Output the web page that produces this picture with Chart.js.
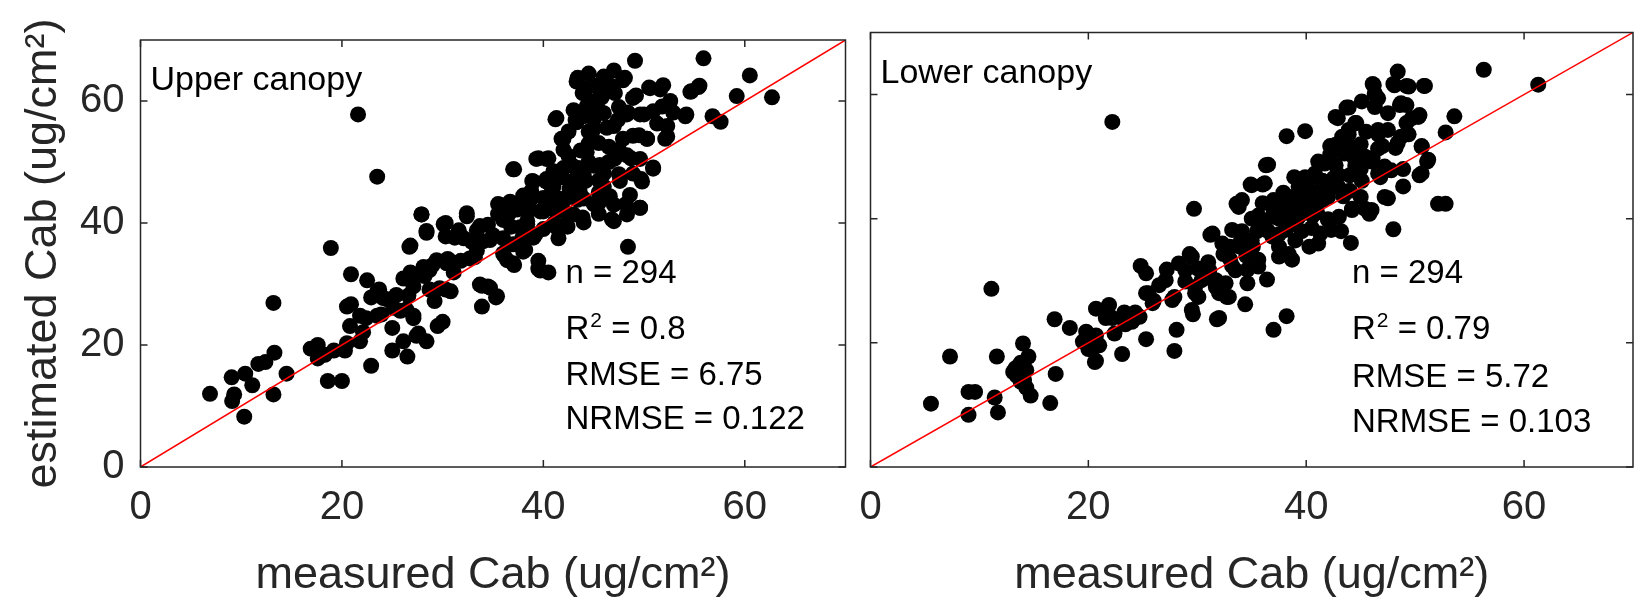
<!DOCTYPE html>
<html>
<head>
<meta charset="utf-8">
<script src="https://cdn.jsdelivr.net/npm/chart.js@4.4.1/dist/chart.umd.min.js"></script>
<style>
  body { margin: 0; background: #fff; }
  #wrap { position: relative; width: 1641px; height: 603px; }
  canvas { position: absolute; left: 0; top: 0; }
</style>
</head>
<body>
<div id="wrap">
  <canvas id="upperChart" width="1641" height="603"></canvas>
  <canvas id="lowerChart" width="1641" height="603"></canvas>
</div>
<script>
const axisTicks = [0, 20, 40, 60]
const axisMax = 70
const oneToOne = [0, axisMax]

const upperMeasured = [
  6.9, 9.05, 9.1, 9.3, 10.3, 10.4, 11.1, 11.7, 12.4, 13.2, 13.3, 13.2, 14.5, 16.9, 17.6, 17.6, 18.3, 18.9, 18.6, 20,
  19.2, 20.3, 20.5, 20.8, 20.5, 20.9, 21.6, 21.8, 22.4, 22.5, 22.9, 22.9, 23.5, 23.7, 23.9, 24.5, 25, 25, 25.8, 26.1,
  26.5, 26.6, 26.7, 26.8, 27.1, 27.6, 27.9, 28.2, 28.4, 28.4, 28.7, 29, 29.2, 29.5, 30, 30.3, 30.3, 30.3, 30.5, 30.8,
  31.1, 31.6, 31.8, 32.4, 32.1, 32.9, 33.2, 33.4, 33.9, 33.9, 34.5, 34.7, 35.3, 34.7, 35.5, 36.1, 36.6, 36.8, 37.1, 37.1,
  37.4, 37.9, 38.2, 38.4, 38.7, 38.9, 39.2, 39.5, 39.5, 39.7, 40, 40.3, 40.5, 40.8, 41.1, 41.3, 41.6, 41.8, 41.8, 42.1,
  42.4, 42.6, 42.9, 43.2, 43.4, 43.4, 43.7, 43.9, 43.9, 44.2, 44.5, 44.5, 45, 45, 45.3, 45.5, 45.5, 45.8, 46, 46.3,
  46.6, 46.8, 47.1, 47.1, 47.4, 47.6, 47.9, 48.1, 48.2, 48.4, 48.4, 48.7, 48.9, 49.1, 49.2, 49.5, 49.6, 49.7, 50, 50.3,
  50.5, 50.9, 51.3, 51.6, 51.8, 52.1, 52.6, 52.9, 54.2, 54.7, 55.5, 55.9, 56.8, 57.6, 59.2, 60.5, 62.7, 39.5, 40.5, 38,
  20.9, 22.1, 21.8, 23.5, 23.5, 24.1, 25.1, 26.4, 25.4, 26.1, 27.4, 27.1, 27.1, 27.4, 28.1, 28.7, 29.7, 29.4, 30.4, 30.9,
  33.7, 34.5, 35.4, 32.7, 36.4, 37,
  43.3, 44.3, 45.6, 46.6, 47.9, 50.6, 51.9, 54.6, 55.4, 48.9, 44.3, 45, 50.9, 54.1, 41.2, 43.3, 45, 47, 48.9, 50.3,
  52.3, 52.3, 48.3, 49.6, 42, 42, 39.3, 40.3, 37, 44.3, 45.6, 47, 48.3, 49.6, 50.9, 49.8, 48.6, 49.6, 47, 48.3,
  45.6, 43.6, 42.3, 41.3, 42.3, 44, 40.3, 39, 38.8, 40, 39.7, 38.4, 37.4, 35.7, 36.7, 33.7, 32.4, 30.1, 27.9, 28.4,
  26.8, 31.2, 33.4, 36, 37.7, 39, 41.3, 43,
  44, 46, 47.5, 43, 41, 42, 44.5, 46.5, 45, 46, 47.5, 43, 44, 45.5, 47, 41.5, 40.5, 38.5, 36, 35,
  34, 37, 35.5, 42.5, 46, 44.5, 47,
  44.5, 45.5, 46.5, 47.5, 44, 45.5, 42.5, 43.5, 41, 40, 41.5, 36, 38
]
const upperEstimated = [
  12.0, 14.7, 10.8, 11.9, 8.25, 15.3, 13.4, 16.9, 17.2, 26.9, 18.75, 11.9, 15.3, 19.4, 20, 17.8, 18.4, 35.9, 14.1, 14.1,
  19.1, 19.1, 20.3, 23.1, 26.3, 31.6, 57.8, 20.6, 24.4, 30.6, 16.6, 27.8, 47.6, 29.1, 25, 27.5, 22.8, 19.1, 25.6, 20.6,
  18.1, 28.1, 36.1, 31.9, 24.4, 21.9, 41.4, 31.3, 20.6, 38.4, 29.1, 33.1, 27.2, 23.1, 23.8, 29.1, 40, 37.8, 34.1, 28.8,
  31.9, 38.8, 33.8, 41.6, 37.5, 36.9, 34.4, 38.8, 29.7, 26.3, 39.7, 37.2, 27.8, 29.4, 43.1, 34.7, 41.6, 39.4, 48.8, 33.1,
  43.1, 37.5, 35.6, 40.3, 43.8, 46.9, 38.1, 33.8, 50.6, 32.2, 41.9, 47.2, 50.6, 45, 40, 57.2, 43.1, 53.8, 47.5, 41.9,
  39.4, 45.6, 49.4, 56.9, 63.8, 43.8, 51.9, 40.9, 61.3, 46.9, 60, 55, 43.1, 49.4, 62.5, 53.1, 45, 60.6, 48.1, 55.6,
  44.4, 40.6, 50.6, 61.3, 56.9, 46.9, 53.8, 63.8, 43.1, 36.1, 58.1, 50.6, 48.1, 66.6, 60.9, 54.4, 42.5, 47.2, 57.8, 53.8,
  62.2, 49.1, 56.3, 61.9, 59.1, 53.8, 60, 58.1, 57.8, 61.6, 62.5, 67, 57.5, 56.6, 60.8, 64.2, 60.6, 32.5, 31.9, 35.3,
  26.7, 22.1, 24.8, 24.8, 28.8, 27.7, 26.1, 25.8, 28.2, 30.9, 31.5, 29.6, 24.8, 21.5, 32.8, 32.3, 29.3, 33.9, 33.4, 33.6,
  29.9, 29.6, 28, 34.2, 33.9, 33.4,
  63.2, 62.1, 61.8, 62.6, 63.4, 62.1, 62.6, 61.5, 62.3, 60.5, 59.1, 59.9, 58.3, 57.5, 57, 56.5, 55.4, 55.9, 54.3, 53.8,
  55.9, 54.2, 57.8, 57.8, 53.8, 52, 50.5, 50.5, 48.8, 51.6, 49.5, 50.5, 51.1, 50.5, 48.9, 46.8, 44.6, 42.5, 40.3, 41.4,
  43.5, 45.2, 44.1, 41.9, 39.8, 40.1, 46.8, 46.8, 45.2, 44.1, 41.9, 39.8, 42.2, 43, 43.5, 39.5, 41.1, 39.8, 41.4, 38.7,
  36.3, 37.6, 35.5, 35, 39.3, 37.6, 39.3, 41.4,
  48, 46, 48, 47, 46, 49, 53, 52.5, 57, 58, 59, 58.5, 44, 41.5, 43, 44, 42.5, 42, 40.5, 38,
  37, 36.5, 41.5, 55, 64, 64.5, 65,
  50, 47, 50, 52, 57.5, 58.5, 51, 49, 48.5, 39, 37.5, 37.5, 44.5
]

const lowerMeasured = [
  5.55, 7.3, 9.0, 9.0, 9.6, 11.1, 11.4, 11.6, 11.7, 13.3, 13.5, 13.8, 14.0, 14.3, 14.5, 14.7, 13.8, 13.1, 14.3, 16.5,
  16.9, 17.0, 18.3, 19.5, 19.8, 20, 20.7, 20.6, 21, 20.7, 21.7, 21.6, 22.2, 22.4, 23.1, 23.3, 24.1, 24.3, 24.8, 25.3,
  25.3, 25.5, 26, 26.5, 27.2, 27.9, 28.1, 27.9, 28.9, 29.3, 29.6, 29.7, 29.8, 30.5, 30.8, 31.2, 31.7, 31.8, 32.4, 32.7,
  33.2, 33.6, 33.9, 34.1, 34.4, 34.6, 34.9, 35.1, 35.6, 36, 36.3, 36.4, 36.5, 37, 37, 37.5, 37.9, 38.2, 38.2, 38.4,
  38.7, 38.9, 39.4, 39.6, 39.9, 39.9, 40.3, 40.6, 40.8, 41.1, 41.3, 41.5, 42, 42.2, 42.7, 42.7, 43.2, 43.4, 43.7, 43.9,
  44.1, 44.2, 44.4, 44.6, 45.1, 45.1, 45.4, 45.8, 46.1, 46.1, 46.3, 46.6, 46.8, 47, 47.5, 48, 48, 48.2, 48.4, 48.7,
  48.9, 49.2, 49.2, 49.4, 50.4, 50.4, 50.6, 50.8, 51.1, 52.1, 52.8, 52.8, 53.6, 56.3, 61.3,
  13.4, 14.1, 20.4, 20.7, 20.1, 21.9, 22.2, 24, 24.7, 23.4, 25.3, 25.9, 27.1, 27.7, 28.3, 28.9, 29.5, 29.8, 30.1, 29.5,
  30.4, 31.1, 31.7, 32, 32.6, 32.9, 32, 33.5, 34.6, 35.6, 35.6, 37.5, 38.7,
  46.2, 46.3, 46.6, 48.1, 49.4, 50.9, 48.6, 49.2, 49.7, 50.3, 43.9, 42.9, 46.3, 50.6, 51.2, 48.4, 47.5, 46.6, 48.7, 46.6,
  46, 44.5, 43.9, 43.3, 42.7, 42.2, 41.7, 40.8, 40.2, 39.3, 38.4, 37.6, 36.9, 35, 36.2, 36.5, 33.8, 34.1, 31.4, 32.3,
  33.2, 45, 46, 47.2, 48.9, 50.6, 46.6, 47.2, 47.8, 45.4, 43, 44.2, 42.3, 41.1, 42, 40.5, 39.3, 38.1, 36.9,
  35, 36, 37.5, 38.5, 39.5, 40, 41.5, 43, 44, 45, 42.5, 41, 39, 37.5, 34.5, 33, 35.5, 40.5, 42, 43.5,
  45, 44,
  38, 39, 40, 41, 42, 43, 44.5, 39.5, 37, 36, 35, 34, 33, 31, 30, 41.5, 45.5, 47.5, 44
]
const lowerEstimated = [
  10.2, 17.8, 8.4, 12.1, 12.1, 28.7, 11.2, 17.8, 8.8, 15.9, 14.6, 13.7, 19.9, 12.8, 17.8, 11.5, 16.8, 15.3, 15.6, 10.3,
  23.8, 15, 22.4, 20.2, 21.8, 19, 21.2, 16.9, 19.6, 25.5, 25.5, 24, 55.6, 21.5, 18.2, 24.9, 23.7, 24.9, 32.4, 31.2,
  20.6, 28, 26.8, 29.3, 31.8, 18.7, 22.1, 27.4, 29.9, 34.3, 24.6, 41.6, 28, 31.8, 30.5, 37.4, 29, 23.8, 34.3, 27.4,
  32.4, 42.4, 35.5, 38, 26.2, 31.8, 45.5, 35.5, 40.5, 45.5, 48.6, 30.2, 38, 22.1, 43, 35.5, 44.2, 53.3, 24.3, 34.3,
  39.3, 46.7, 43, 38, 54.1, 46.7, 35.5, 40.5, 44.2, 49.2, 37.6, 46.1, 39.9, 51.7, 56.4, 48.6, 38, 43.6, 57.9, 53.6,
  36.1, 41.6, 49.8, 55.4, 58.9, 46.1, 41.6, 40.8, 61.7, 49.8, 60, 53.6, 46.7, 51.7, 43.3, 38.3, 61.7, 51.4, 63.7, 58.6,
  48, 61.4, 55.4, 53.6, 56.7, 47, 51.7, 61.4, 49.2, 42.4, 42.4, 53.9, 56.5, 64.0, 61.6,
  14.8, 14, 19.1, 17.1, 21, 26.1, 24, 23.4, 24.2, 23, 28, 26.4, 30.1, 26.9, 32.8, 31.7, 33.9, 29, 27.4, 25.3,
  30.1, 31.7, 30.1, 28, 29.6, 27.4, 24, 31.7, 29.6, 32.3, 33.4, 33.9, 33.4,
  61.5, 60.2, 59.4, 61.5, 61.3, 61.4, 58.3, 58.3, 56.2, 56.4, 57.9, 56.2, 58, 51.6, 49.5, 52.2, 54.3, 54.3, 53.2, 51.3,
  49.2, 55.4, 54.3, 53.2, 51.9, 50.3, 48.9, 47.3, 46.2, 45.2, 43.5, 41.9, 40.3, 45.4, 45.7, 48.7, 41.9, 43, 37.6, 36,
  38.2, 43.5, 41.4, 43.5, 45.2, 47.3, 47.3, 48.4, 47.8, 50, 40.3, 41.4, 38.2, 36, 39.8, 42.5, 40.3, 38.2, 37.1,
  36.5, 39, 40, 41.5, 42, 44, 43, 45, 47, 48, 46.5, 41, 36.5, 37.5, 34, 33.5, 38, 38.5, 43.5, 50.5,
  52, 44.5,
  40.5, 39, 41, 42.5, 45, 47, 48.5, 44.5, 41.5, 42.5, 40, 36.5, 35.5, 33, 32, 45.5, 54, 57, 51.5
]

const upperStats = ['n = 294', '0.8', 'RMSE = 6.75', 'NRMSE = 0.122']
const lowerStats = ['n = 294', '0.79', 'RMSE = 5.72', 'NRMSE = 0.103']

const fontFamily = "'Liberation Sans', Arial, Helvetica, sans-serif"
const axisColor = '#262626'

const matlabBox = {
  id: 'matlabBox',
  afterDraw(chart, args, opts) {
    const ctx = chart.ctx
    const area = chart.chartArea
    const x = chart.scales.x
    const y = chart.scales.y
    ctx.save()
    ctx.strokeStyle = axisColor
    ctx.lineWidth = 1.5
    ctx.strokeRect(area.left, area.top, area.right - area.left, area.bottom - area.top)
    ctx.beginPath()
    axisTicks.forEach(v => {
      const px = x.getPixelForValue(v)
      const py = y.getPixelForValue(v)
      ctx.moveTo(px, area.bottom); ctx.lineTo(px, area.bottom - 7)
      ctx.moveTo(px, area.top); ctx.lineTo(px, area.top + 7)
      ctx.moveTo(area.left, py); ctx.lineTo(area.left + 7, py)
      ctx.moveTo(area.right, py); ctx.lineTo(area.right - 7, py)
    })
    ctx.stroke()

    ctx.fillStyle = '#000'
    ctx.textBaseline = 'alphabetic'
    ctx.textAlign = 'left'
    ctx.font = `34px ${fontFamily}`
    ctx.fillText(opts.label, area.left + 10, area.top + 50)

    const sx = x.getPixelForValue(opts.statsX)
    const big = `33px ${fontFamily}`
    const small = `21px ${fontFamily}`
    const s = opts.stats
    ctx.font = big
    ctx.fillText(s[0], sx, y.getPixelForValue(opts.statsY[0]))
    const r2y = y.getPixelForValue(opts.statsY[1])
    ctx.fillText('R', sx, r2y)
    const rw = ctx.measureText('R').width
    ctx.font = small
    ctx.fillText('2', sx + rw + 1, r2y - 12)
    const tw = ctx.measureText('2').width
    ctx.font = big
    ctx.fillText(' = ' + s[1], sx + rw + tw + 1, r2y)
    ctx.fillText(s[2], sx, y.getPixelForValue(opts.statsY[2]))
    ctx.fillText(s[3], sx, y.getPixelForValue(opts.statsY[3]))
    ctx.restore()
  }
}

function makePanel(canvasId, measured, estimated, panel) {
  const points = measured.map((v, i) => ({ x: v, y: estimated[i] }))
  const config = {
    type: 'scatter',
    data: {
      datasets: [
        {
          type: 'line',
          data: oneToOne.map(v => ({ x: v, y: v })),
          borderColor: '#ff0000',
          borderWidth: 1.5,
          pointRadius: 0,
          order: 0
        },
        {
          data: points,
          backgroundColor: '#000',
          borderColor: '#000',
          pointRadius: 8,
          pointBorderWidth: 0,
          order: 1
        }
      ]
    },
    options: {
      responsive: false,
      animation: false,
      layout: { padding: panel.padding },
      plugins: {
        legend: { display: false },
        tooltip: { enabled: false },
        matlabBox: panel
      },
      scales: {
        x: {
          type: 'linear',
          min: 0,
          max: axisMax,
          afterBuildTicks: s => { s.ticks = axisTicks.map(v => ({ value: v })) },
          afterFit: s => { s.height = 136 },
          grid: { display: false, drawTicks: false },
          border: { display: false },
          ticks: { padding: 17, color: axisColor, font: { family: fontFamily, size: 40 }, maxRotation: 0 },
          title: {
            display: true,
            text: 'measured Cab (ug/cm²)',
            color: axisColor,
            font: { family: fontFamily, size: 45 },
            padding: { top: 0, bottom: 0 }
          }
        },
        y: {
          type: 'linear',
          min: 0,
          max: axisMax,
          afterBuildTicks: s => { s.ticks = axisTicks.map(v => ({ value: v })) },
          afterFit: s => { s.width = panel.yWidth },
          grid: { display: false, drawTicks: false },
          border: { display: false },
          ticks: { display: panel.yLabels, padding: 16, color: axisColor, font: { family: fontFamily, size: 40 } },
          title: {
            display: panel.yLabels,
            text: 'estimated Cab (ug/cm²)',
            color: axisColor,
            font: { family: fontFamily, size: 45 },
            padding: { top: 17, bottom: 0 }
          }
        }
      }
    },
    plugins: [matlabBox]
  }
  return new Chart(document.querySelector(canvasId), config)
}

makePanel('#upperChart', upperMeasured, upperEstimated, {
  label: 'Upper canopy',
  stats: upperStats,
  statsX: 42.2,
  statsY: [30.1, 21.0, 13.5, 6.3],
  yLabels: true,
  yWidth: 140.5,
  padding: { left: 0, top: 32.5, right: 795.5, bottom: 0 }
})

makePanel('#lowerChart', lowerMeasured, lowerEstimated, {
  label: 'Lower canopy',
  stats: lowerStats,
  statsX: 44.2,
  statsY: [29.6, 20.6, 12.9, 5.6],
  yLabels: false,
  yWidth: 870.5,
  padding: { left: 0, top: 32.5, right: 5.5, bottom: 0 }
})
</script>
</body>
</html>
